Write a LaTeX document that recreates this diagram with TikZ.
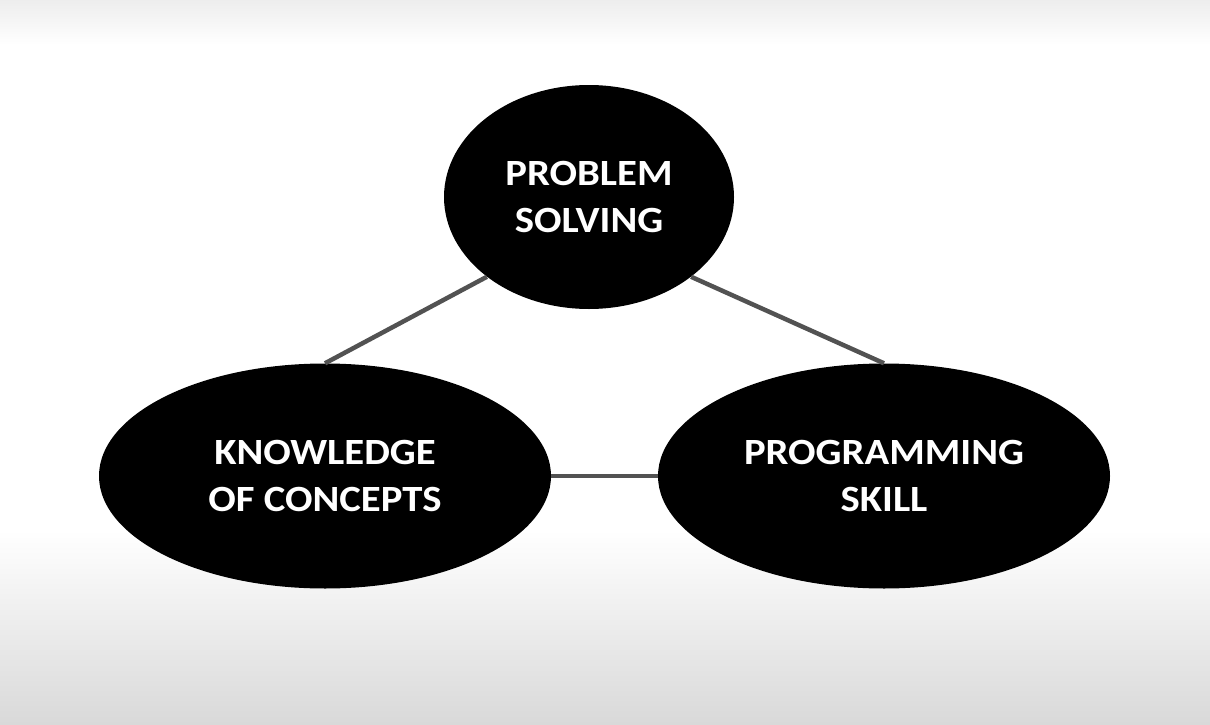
\documentclass[tikz,border=0pt]{standalone}
\usepackage{fontspec}
\setmainfont{Carlito}[FakeStretch=1.1]
\usetikzlibrary{shapes.geometric}
\begin{document}
\begin{tikzpicture}[x=1pt, y=-1pt, line join=round,
	topic/.style={ellipse, fill=black, text=white, align=center, inner sep=0pt, minimum width=452pt, minimum height=225pt, font=\bfseries\fontsize{37}{47}\selectfont},
	link/.style={draw=black!68, line width=4.5pt}]
			\useasboundingbox (0,0) rectangle (1210,725);
			\fill[white] (0,0) rectangle (1210,725);
			\shade[top color=black!7, bottom color=white] (0,0) rectangle (1210,45);
			\shade[top color=white, bottom color=black!15] (0,530) rectangle (1210,725);
			\node[topic, minimum width=290pt, minimum height=224pt] (problem) at (589,197) {PROBLEM\\SOLVING};
			\node[topic] (knowledge) at (325,476) {KNOWLEDGE\\OF CONCEPTS};
			\node[topic] (skill) at (884,476) {PROGRAMMING\\SKILL};
			\draw[link] (problem.218)--(knowledge.north);
			\draw[link] (problem.322)--(skill.north);
			\draw[link] (knowledge.east)--(skill.west);
			\end{tikzpicture}
\end{document}
